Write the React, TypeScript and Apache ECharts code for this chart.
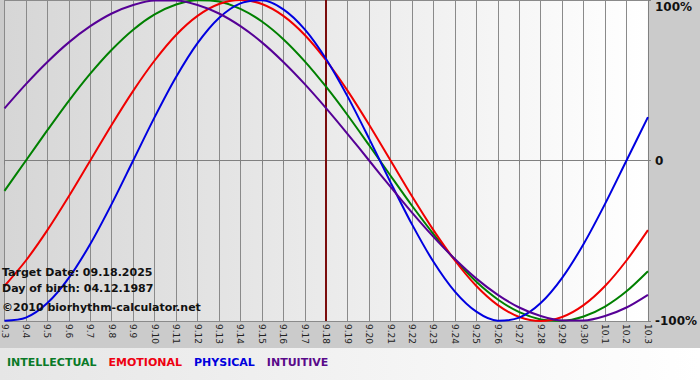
import React, { useEffect, useRef } from "react";
import * as echarts from "echarts";

const categories = [
  "9.3", "9.4", "9.5", "9.6", "9.7", "9.8", "9.9", "9.10", "9.11", "9.12",
  "9.13", "9.14", "9.15", "9.16", "9.17", "9.18", "9.19", "9.20", "9.21", "9.22",
  "9.23", "9.24", "9.25", "9.26", "9.27", "9.28", "9.29", "9.30", "10.1", "10.2", "10.3",
];

const intellectual = [
  -0.189, 0, 0.189, 0.372, 0.541, 0.69, 0.815, 0.91, 0.972, 0.999, 0.99, 0.945, 0.866, 0.756, 0.618, 0.458,
  0.282, 0.095, -0.095, -0.282, -0.458, -0.618, -0.756, -0.866, -0.945, -0.99, -0.999, -0.972, -0.91, -0.815, -0.69,
];
const emotional = [
  -0.782, -0.623, -0.434, -0.223, 0, 0.223, 0.434, 0.623, 0.782, 0.901, 0.975, 1, 0.975, 0.901, 0.782, 0.623,
  0.434, 0.223, 0, -0.223, -0.434, -0.623, -0.782, -0.901, -0.975, -1, -0.975, -0.901, -0.782, -0.623, -0.434,
];
const physical = [
  -0.998, -0.979, -0.888, -0.731, -0.52, -0.27, 0, 0.27, 0.52, 0.731, 0.888, 0.979, 0.998, 0.942, 0.817, 0.631,
  0.398, 0.136, -0.136, -0.398, -0.631, -0.817, -0.942, -0.998, -0.979, -0.888, -0.731, -0.52, -0.27, 0, 0.27,
];
const intuitive = [
  0.325, 0.476, 0.614, 0.736, 0.837, 0.916, 0.969, 0.997, 0.997, 0.969, 0.916, 0.837, 0.736, 0.614, 0.476, 0.325,
  0.165, 0, -0.165, -0.325, -0.476, -0.614, -0.736, -0.837, -0.916, -0.969, -0.997, -0.997, -0.969, -0.916, -0.837,
];

const seriesNames = ["INTELLECTUAL", "EMOTIONAL", "PHYSICAL", "INTUITIVE"];
const lineColors = ["#008000", "#f00000", "#0000e0", "#560096"];
const legendColors = ["#0a7a28", "#ee0011", "#0000dd", "#5a0a8a"];
const targetDay = "9.18";
const infoLines = ["Target Date: 09.18.2025", "Day of birth: 04.12.1987", "\u00a92010 biorhythm-calculator.net"];
const yTickLabels: Record<string, string> = { "1": "100%", "0": "0", "-1": "-100%" };

const FONT = "'DejaVu Sans', Verdana, sans-serif";

export default function App() {
  const ref = useRef<HTMLDivElement>(null);
  useEffect(() => {
    if (!ref.current) return;
    const chart = echarts.init(ref.current, null, { renderer: "svg" });
    const allData = [intellectual, emotional, physical, intuitive];
    chart.setOption({
      animation: false,
      backgroundColor: "#cbcbcb",
      grid: {
        left: 0,
        right: 49,
        top: 0,
        bottom: 59,
        show: true,
        borderWidth: 0,
        backgroundColor: new echarts.graphic.LinearGradient(0, 0, 1, 0, [
          { offset: 0, color: "#d6d6d6" },
          { offset: 1, color: "#ffffff" },
        ]),
      },
      legend: {
        left: 2,
        top: 355,
        padding: 0,
        icon: "none",
        itemWidth: 0,
        itemHeight: 14,
        itemGap: 7,
        selectedMode: false,
        textStyle: { fontFamily: FONT, fontWeight: "bold", fontSize: 11 },
        data: seriesNames.map((n, i) => ({ name: n, textStyle: { color: legendColors[i] } })),
      },
      xAxis: {
        type: "category",
        data: categories,
        boundaryGap: false,
        axisLine: { show: true, lineStyle: { color: "#808080", width: 1 } },
        axisTick: { show: true, interval: 0, length: 4, lineStyle: { color: "#808080" } },
        axisLabel: {
          interval: 0,
          rotate: -90,
          fontSize: 9,
          fontFamily: FONT,
          color: "#222222",
          margin: 3,
        },
        splitLine: { show: true, interval: 0, lineStyle: { color: "#8a8a8a", width: 1 } },
      },
      yAxis: {
        type: "value",
        position: "right",
        min: -1,
        max: 1,
        interval: 1,
        axisLine: { show: true, lineStyle: { color: "#808080" } },
        axisTick: { show: true, length: 3, lineStyle: { color: "#808080" } },
        splitLine: { show: true, lineStyle: { color: "#8a8a8a", width: 1 } },
        axisLabel: {
          margin: 7,
          fontSize: 12,
          fontWeight: "bold",
          fontFamily: FONT,
          color: "#111111",
          formatter: (v: number) => {
            const s = yTickLabels[String(v)] ?? "";
            return v === 1 ? "{t|" + s + "}" : s;
          },
          rich: {
            t: { padding: [14, 0, 0, 0], fontSize: 12, fontWeight: "bold", fontFamily: FONT, color: "#111111" },
          },
        },
      },
      graphic: [
        {
          type: "rect",
          z: 0,
          shape: { x: 0, y: 348, width: 700, height: 32 },
          style: {
            fill: new echarts.graphic.LinearGradient(0, 0, 1, 0, [
              { offset: 0, color: "#e6e6e6" },
              { offset: 1, color: "#ffffff" },
            ]),
          },
          silent: true,
        },
        ...infoLines.map((t, i) => ({
          type: "text",
          z: 100,
          x: 2,
          y: [272, 288, 307][i],
          style: {
            text: t,
            fill: "#111111",
            font: "bold 11px 'DejaVu Sans', Verdana, sans-serif",
            verticalAlign: "middle",
          },
          silent: true,
        })),
      ],
      series: seriesNames.map((n, i) => ({
        name: n,
        type: "line",
        data: allData[i],
        smooth: 0.3,
        symbol: "none",
        lineStyle: { color: lineColors[i], width: 2 },
        itemStyle: { color: lineColors[i] },
        z: 3,
        ...(i === 0
          ? {
              markLine: {
                silent: true,
                symbol: ["none", "none"],
                label: { show: false },
                lineStyle: { color: "#7a0c0c", width: 2, type: "solid" },
                data: [{ xAxis: targetDay }],
                z: 2,
              },
            }
          : {}),
      })),
    });
    return () => chart.dispose();
  }, []);
  return (
    <div
      ref={ref}
      style={{ position: "fixed", left: 0, top: 0, width: 700, height: 380 }}
    />
  );
}
